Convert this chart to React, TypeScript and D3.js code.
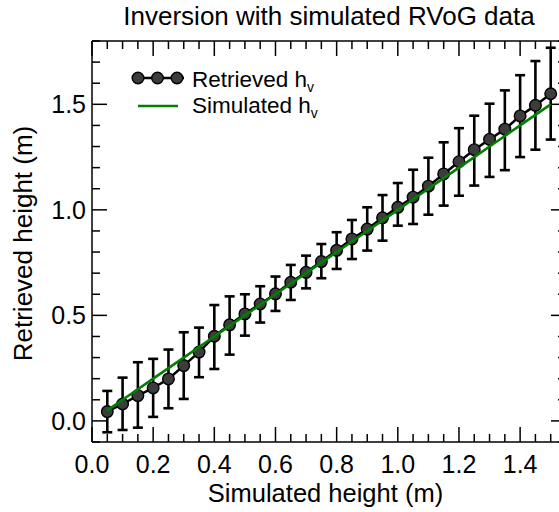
import React from "react";
import * as d3 from "d3";

const simulatedHeight = [
  0.05, 0.1, 0.15, 0.2, 0.25, 0.3, 0.35, 0.4, 0.45, 0.5,
  0.55, 0.6, 0.65, 0.7, 0.75, 0.8, 0.85, 0.9, 0.95, 1.0,
  1.05, 1.1, 1.15, 1.2, 1.25, 1.3, 1.35, 1.4, 1.45, 1.5,
];
const retrievedHeight = [
  0.044, 0.08, 0.12, 0.156, 0.199, 0.262, 0.326, 0.401, 0.455, 0.507,
  0.554, 0.602, 0.657, 0.704, 0.755, 0.808, 0.862, 0.909, 0.962, 1.012,
  1.06, 1.112, 1.17, 1.228, 1.285, 1.334, 1.382, 1.445, 1.495, 1.55,
];
const errorLower = [
  -0.054, -0.043, -0.032, 0.019, 0.06, 0.104, 0.207, 0.246, 0.314, 0.404,
  0.466, 0.521, 0.573, 0.628, 0.676, 0.72, 0.767, 0.807, 0.854, 0.925,
  0.933, 0.977, 1.02, 1.067, 1.115, 1.156, 1.188, 1.25, 1.285, 1.333,
];
const errorUpper = [
  0.142, 0.205, 0.278, 0.294, 0.338, 0.42, 0.442, 0.549, 0.59, 0.6,
  0.638, 0.684, 0.739, 0.783, 0.838, 0.894, 0.952, 1.012, 1.07, 1.127,
  1.19, 1.247, 1.32, 1.387, 1.446, 1.503, 1.566, 1.638, 1.705, 1.768,
];
const xTickValues = [0.0, 0.2, 0.4, 0.6, 0.8, 1.0, 1.2, 1.4];
const xTickLabels = ["0.0", "0.2", "0.4", "0.6", "0.8", "1.0", "1.2", "1.4"];
const yTickValues = [0.0, 0.5, 1.0, 1.5];
const yTickLabels = ["0.0", "0.5", "1.0", "1.5"];

const W = 559;
const H = 512;
const X0 = 92;
const X1 = 566;
const Y0 = 442;
const Y1 = 41;
const FONT = "'Liberation Sans', Arial, Helvetica, sans-serif";

export default function App() {
  const x = d3.scaleLinear().domain([0, 1.55]).range([X0, X1]);
  const y = d3.scaleLinear().domain([-0.1, 1.8]).range([Y0, Y1]);
  const xMinor = d3.range(0, 1.5501, 0.05);
  const yMinor = d3.range(-0.1, 1.8001, 0.1);
  const MAJ = 15;
  const MIN = 8;

  const idx = d3.range(simulatedHeight.length);
  const retLine = d3
    .line<number>()
    .x((i) => x(simulatedHeight[i]))
    .y((i) => y(retrievedHeight[i]))(idx) as string;
  const simLine = d3
    .line<number>()
    .x((i) => x(simulatedHeight[i]))
    .y((i) => y(simulatedHeight[i]))(idx) as string;

  const capW = 5;

  return (
    <svg
      width={W}
      height={H}
      style={{ position: "fixed", left: 0, top: 0, background: "#fff" }}
      fontFamily={FONT}
    >
      <rect x={0} y={0} width={W} height={H} fill="#fff" />
      {/* title */}
      <text x={329} y={25} fontSize={26} textAnchor="middle" fill="#000">
        Inversion with simulated RVoG data
      </text>

      {/* error bars */}
      <g stroke="#000" strokeWidth={2.6} fill="none">
        {idx.map((i) => {
          const cx = x(simulatedHeight[i]);
          const yl = y(errorLower[i]);
          const yu = y(errorUpper[i]);
          return (
            <g key={"e" + i}>
              <line x1={cx} x2={cx} y1={yl} y2={yu} />
              <line x1={cx - capW} x2={cx + capW} y1={yl} y2={yl} />
              <line x1={cx - capW} x2={cx + capW} y1={yu} y2={yu} />
            </g>
          );
        })}
      </g>

      {/* retrieved line and markers */}
      <path d={retLine} stroke="#000" strokeWidth={2.5} fill="none" />
      {idx.map((i) => (
        <circle
          key={"c" + i}
          cx={x(simulatedHeight[i])}
          cy={y(retrievedHeight[i])}
          r={5.8}
          fill="#3c3c3c"
          stroke="#000"
          strokeWidth={1.4}
        />
      ))}

      {/* simulated line */}
      <path d={simLine} stroke="#008000" strokeWidth={2.6} fill="none" />

      {/* axes box */}
      <g stroke="#000" strokeWidth={1.5} fill="none">
        <line x1={X0} x2={X1} y1={Y0} y2={Y0} />
        <line x1={X0} x2={X1} y1={Y1} y2={Y1} />
        <line x1={X0} x2={X0} y1={Y0} y2={Y1} />
        <line x1={X1} x2={X1} y1={Y0} y2={Y1} />
        {xMinor.map((v, i) => {
          const major = xTickValues.some((t) => Math.abs(t - v) < 1e-6);
          const len = major ? MAJ : MIN;
          return (
            <g key={"xm" + i}>
              <line x1={x(v)} x2={x(v)} y1={Y0} y2={Y0 - len} />
              <line x1={x(v)} x2={x(v)} y1={Y1} y2={Y1 + len} />
            </g>
          );
        })}
        {yMinor.map((v, i) => {
          const major = yTickValues.some((t) => Math.abs(t - v) < 1e-6);
          const len = major ? MAJ : MIN;
          return (
            <g key={"ym" + i}>
              <line x1={X0} x2={X0 + len} y1={y(v)} y2={y(v)} />
              <line x1={X1} x2={X1 - len} y1={y(v)} y2={y(v)} />
            </g>
          );
        })}
      </g>

      {/* tick labels */}
      {xTickValues.map((v, i) => (
        <text key={"xl" + i} x={x(v)} y={473} fontSize={25} textAnchor="middle" fill="#000">
          {xTickLabels[i]}
        </text>
      ))}
      {yTickValues.map((v, i) => (
        <text key={"yl" + i} x={86} y={y(v) + 9} fontSize={25} textAnchor="end" fill="#000">
          {yTickLabels[i]}
        </text>
      ))}

      {/* axis titles */}
      <text x={(X0 + 559) / 2} y={502} fontSize={25.5} textAnchor="middle" fill="#000">
        Simulated height (m)
      </text>
      <text
        transform={`translate(32, ${(Y0 + Y1) / 2 + 2}) rotate(-90)`}
        fontSize={26}
        textAnchor="middle"
        fill="#000"
      >
        Retrieved height (m)
      </text>

      {/* legend */}
      <line x1={132} x2={184} y1={78} y2={78} stroke="#000" strokeWidth={2.5} />
      {[138, 157.5, 177].map((cx, i) => (
        <circle key={"lg" + i} cx={cx} cy={78} r={5.8} fill="#3c3c3c" stroke="#000" strokeWidth={1.4} />
      ))}
      <text x={192} y={87} fontSize={22.5} fill="#000">
        Retrieved h
        <tspan fontSize={14} dy={5}>v</tspan>
      </text>
      <line x1={138} x2={178} y1={106} y2={106} stroke="#008000" strokeWidth={2.6} />
      <text x={192} y={113} fontSize={22.5} fill="#000">
        Simulated h
        <tspan fontSize={14} dy={5}>v</tspan>
      </text>
    </svg>
  );
}
